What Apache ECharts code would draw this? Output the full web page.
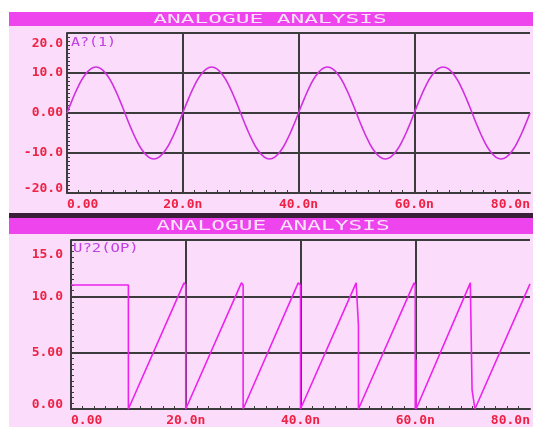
<!DOCTYPE html>
<html><head><meta charset="utf-8">
<script src="https://cdn.jsdelivr.net/npm/echarts@6/dist/echarts.min.js"></script>
<style>html,body{margin:0;padding:0;background:#fff}#c{width:533px;height:427px}</style>
</head><body><div id="c"></div>
<script>
// ---- data ----
const panelTitle = 'ANALOGUE ANALYSIS';
const topTrace = 'A?(1)';
const botTrace = 'U?2(OP)';
const xTickLabels = ['0.00', '20.0n', '40.0n', '60.0n', '80.0n'];
const xTickValues = [0, 20, 40, 60, 80];
const topYTicks = {'20': '20.0', '10': '10.0', '0': '0.00', '-10': '-10.0', '-20': '-20.0'};
const botYTicks = {'15': '15.0', '10': '10.0', '5': '5.00', '0': '0.00'};
// sine trace sampled every 1 ns (0..80 ns)
const sineT = [];
for (let i = 0; i <= 80; i++) sineT.push(i);
const sineV = [0, 3.6, 6.8, 9.3, 10.9, 11.5, 10.9, 9.3, 6.8, 3.6, 0, -3.6, -6.8, -9.3, -10.9, -11.5, -10.9, -9.3, -6.8, -3.6,
  0, 3.6, 6.8, 9.3, 10.9, 11.5, 10.9, 9.3, 6.8, 3.6, 0, -3.6, -6.8, -9.3, -10.9, -11.5, -10.9, -9.3, -6.8, -3.6,
  0, 3.6, 6.8, 9.3, 10.9, 11.5, 10.9, 9.3, 6.8, 3.6, 0, -3.6, -6.8, -9.3, -10.9, -11.5, -10.9, -9.3, -6.8, -3.6,
  0, 3.6, 6.8, 9.3, 10.9, 11.5, 10.9, 9.3, 6.8, 3.6, 0, -3.6, -6.8, -9.3, -10.9, -11.5, -10.9, -9.3, -6.8, -3.6, 0];
// sawtooth trace
const sawT = [0, 10, 10, 19.7, 20, 20, 29.7, 30, 30, 39.6, 40, 40, 49.7, 50.1, 50.1, 59.8, 60, 60, 60.15, 60.15, 69.6, 69.9, 70.4, 80];
const sawV = [11.0, 11.0, 0, 11.2, 11.0, 0, 11.2, 11.0, 0, 11.2, 11.0, 0, 11.2, 7.4, 0, 11.2, 11.0, 0, 4.4, 0, 11.2, 1.7, 0, 11.1];

// ---- styles ----
const BG = '#fbdcfb', BAR = '#ee44ee', GRIDC = '#3c3c3c', LBL = '#ee2244';
const chart = echarts.init(document.getElementById('c'));
const labelFont = {fontFamily: 'DejaVu Sans Mono', fontWeight: 'bold', fontSize: 13, color: LBL};

function xAxis(gi) {
  return {
    type: 'value', gridIndex: gi, min: 0, max: 80, interval: 20,
    axisLine: {show: true, onZero: false, lineStyle: {color: GRIDC, width: 2}},
    axisTick: {show: false, inside: true},
    minorTick: {show: true, splitNumber: 10, length: 3, lineStyle: {color: GRIDC, width: 1}},
    splitLine: {show: true, showMaxLine: false, lineStyle: {color: GRIDC, width: 2}},
    axisLabel: Object.assign({margin: 5, alignMinLabel: 'left', alignMaxLabel: 'right',
      formatter: v => xTickLabels[xTickValues.indexOf(v)]}, labelFont)
  };
}
function yAxis(gi, min, max, interval, map, padTop, padBot, margin) {
  return {
    type: 'value', gridIndex: gi, min: min, max: max, interval: interval,
    axisLine: {show: true, lineStyle: {color: GRIDC, width: 2}},
    axisTick: {show: false, inside: true},
    minorTick: {show: true, splitNumber: 10, length: 3, lineStyle: {color: GRIDC, width: 1}},
    splitLine: {show: true, lineStyle: {color: GRIDC, width: 2}},
    axisLabel: Object.assign({margin: margin,
      formatter: v => v === max ? '{t|' + map[String(v)] + '}' : (v === min ? '{b|' + map[String(v)] + '}' : map[String(v)]),
      rich: {t: Object.assign({padding: [padTop, 0, 0, 0]}, labelFont), b: Object.assign({padding: [0, 0, padBot, 0]}, labelFont)}
    }, labelFont)
  };
}
const titleStyle = {text: panelTitle, fill: '#fbe4fb', font: '12px "DejaVu Sans Mono"', textAlign: 'center', textVerticalAlign: 'middle'};
chart.setOption({
  backgroundColor: BG,
  animation: false,
  grid: [
    {left: 67, top: 33, width: 466, height: 160},
    {left: 71, top: 240, width: 462, height: 174}
  ],
  xAxis: [xAxis(0), xAxis(1)],
  yAxis: [yAxis(0, -20, 20, 10, topYTicks, 21, 9, 4), yAxis(1, 0, 15, 5, botYTicks, 30, 8, 8)],
  series: [
    {type: 'line', xAxisIndex: 0, yAxisIndex: 0, data: sineT.map((t, i) => [t, sineV[i]]), smooth: true, showSymbol: false,
      lineStyle: {color: '#d030e0', width: 1.6}, z: 5},
    {type: 'line', xAxisIndex: 1, yAxisIndex: 1, data: sawT.map((t, i) => [t, sawV[i]]), showSymbol: false,
      lineStyle: {color: '#ee22ee', width: 1.6}, z: 5}
  ],
  graphic: [
    {type: 'rect', shape: {x: 0, y: 0, width: 533, height: 12}, style: {fill: '#ffffff'}},
    {type: 'rect', shape: {x: 0, y: 0, width: 9, height: 427}, style: {fill: '#ffffff'}},
    {type: 'rect', shape: {x: 9, y: 12, width: 524, height: 14}, style: {fill: BAR}},
    {type: 'rect', shape: {x: 9, y: 213, width: 524, height: 5}, style: {fill: '#3a1e3a'}},
    {type: 'rect', shape: {x: 9, y: 218, width: 524, height: 16}, style: {fill: BAR}},
    {type: 'text', x: 270, y: 19.5, scaleX: 1.9, scaleY: 1.05, style: titleStyle},
    {type: 'text', x: 273, y: 226.5, scaleX: 1.9, scaleY: 1.15, style: titleStyle},
    {type: 'text', x: 71, y: 42.5, scaleX: 1.25, style: {text: topTrace, fill: '#c040e0', font: '12px "DejaVu Sans Mono"', textVerticalAlign: 'middle'}},
    {type: 'text', x: 73, y: 249, scaleX: 1.3, style: {text: botTrace, fill: '#c040e0', font: '12px "DejaVu Sans Mono"', textVerticalAlign: 'middle'}}
  ]
});
</script></body></html>
